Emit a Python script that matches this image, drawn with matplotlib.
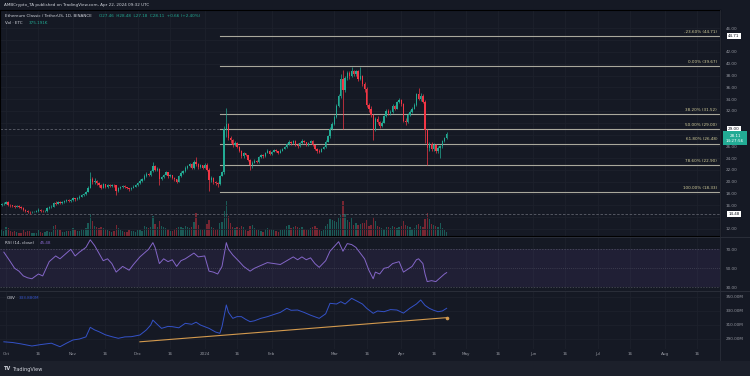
import pandas as pd
import matplotlib
matplotlib.use("Agg")
import matplotlib.pyplot as plt
import matplotlib.dates as mdates
from matplotlib.transforms import blended_transform_factory

W, H = 750, 376

# daily ETC/USDT candles from 2023-09-29 to 2024-04-22, open = previous close
first_date = "2023-09-29"
first_open = 16.0
closes = [
    16.2, 16.3,
    16.6, 16.1, 16.0, 15.9, 15.8, 15.9, 15.8, 15.6, 15.2, 15.1,
    14.9, 14.8, 14.9, 14.9, 15.0, 15.3, 15.1, 15.0, 15.0, 15.5,
    15.7, 15.8, 16.4, 16.3, 16.6, 16.4, 16.5, 16.7, 16.9, 16.8, 16.9,
    17.2, 17.0, 17.2, 17.5, 17.8, 17.9, 18.3, 19.0, 20.4, 20.0,
    20.2, 19.8, 19.5, 19.0, 19.6, 19.2, 19.4, 19.3, 19.5, 19.4,
    18.4, 18.9, 19.1, 19.3, 19.1, 18.9, 18.7, 19.0, 19.2, 19.4,
    19.8, 20.2, 20.4, 21.0, 21.3, 21.1, 21.8, 22.6, 22.0, 22.2,
    20.5, 20.8, 21.2, 21.6, 20.9, 21.1, 20.6, 20.4, 20.0, 20.9,
    21.5, 21.8, 22.4, 22.6, 23.0, 22.3, 23.4, 23.0, 22.5, 22.8, 22.4,
    22.9, 22.0, 20.3, 20.6, 20.0, 19.8, 19.6, 21.0, 21.6, 28.9,
    29.8, 27.4, 27.0, 26.2, 26.6, 25.9, 25.2, 24.3, 24.8, 24.5,
    23.7, 22.8, 23.2, 23.6, 23.3, 24.2, 24.5, 24.3, 24.9, 25.3, 24.7,
    25.1, 25.4, 25.2, 24.9, 25.3, 25.6, 25.9, 26.4, 26.8, 26.5,
    26.9, 26.3, 26.0, 26.6, 26.9, 26.7, 26.2, 26.6, 26.9, 26.2,
    25.6, 25.3, 25.1, 25.6, 25.9, 26.8, 27.7, 29.0, 29.8,
    31.0, 32.8, 34.5, 37.5, 35.5, 37.6, 38.4, 38.0, 38.8, 38.3,
    38.7, 37.5, 37.9, 36.5, 35.8, 33.0, 32.4, 31.3, 28.8, 30.7,
    30.1, 29.5, 30.0, 31.2, 32.0, 31.6, 31.9, 32.8, 32.4, 33.5, 33.9,
    33.2, 30.3, 30.1, 31.4, 31.9, 32.4, 33.0, 34.8, 34.0, 34.6,
    33.6, 28.7, 25.8, 26.4, 25.5, 26.2, 25.2, 25.7, 26.0, 26.9, 27.45, 28.11,
]
highs = [
    16.4, 16.5,
    16.8, 16.7, 16.3, 16.1, 16.0, 16.1, 16.0, 15.9, 15.7, 15.4,
    15.2, 15.0, 15.1, 15.1, 15.2, 15.6, 15.4, 15.2, 15.2, 15.7,
    15.9, 16.0, 16.6, 16.8, 16.8, 16.7, 16.7, 16.9, 17.1, 17.0, 17.1,
    17.4, 17.3, 17.4, 17.7, 18.0, 18.1, 18.5, 19.3, 21.7, 20.8,
    20.6, 20.3, 19.9, 19.6, 19.8, 19.7, 19.6, 19.6, 19.7, 19.7,
    19.5, 19.1, 19.3, 19.5, 19.4, 19.2, 19.0, 19.2, 19.4, 19.6,
    20.0, 20.4, 20.6, 21.3, 21.6, 21.5, 22.0, 23.4, 22.8, 22.5,
    22.3, 21.0, 21.4, 21.9, 21.7, 21.3, 21.2, 20.8, 20.5, 21.1,
    21.8, 22.0, 22.7, 22.9, 23.2, 23.1, 23.7, 24.2, 23.1, 23.0, 22.9,
    23.1, 23.2, 22.3, 20.9, 20.8, 20.2, 20.0, 21.2, 21.9, 29.5,
    32.5, 29.9, 27.8, 27.2, 26.9, 26.8, 26.1, 25.4, 25.0, 24.9,
    24.6, 23.8, 23.5, 23.8, 23.7, 24.4, 24.7, 24.7, 25.1, 25.5, 25.4,
    25.3, 25.6, 25.5, 25.3, 25.5, 25.8, 26.1, 26.6, 27.1, 26.9,
    27.1, 27.0, 26.5, 26.8, 27.2, 27.1, 26.8, 26.8, 27.1, 27.0,
    26.3, 25.8, 25.5, 25.8, 26.1, 27.0, 27.9, 29.3, 30.2,
    31.3, 33.1, 34.9, 38.2, 39.0, 37.9, 38.8, 38.7, 39.5, 39.0,
    39.0, 38.9, 39.4, 38.1, 36.9, 36.0, 33.4, 32.8, 31.5, 31.0,
    31.2, 30.3, 30.3, 31.4, 32.3, 32.3, 32.2, 33.1, 33.0, 33.7, 34.2,
    34.0, 33.3, 30.8, 31.7, 32.2, 32.6, 33.3, 35.1, 35.9, 35.0,
    34.8, 33.8, 28.9, 26.8, 26.7, 26.5, 26.4, 26.1, 26.3, 27.1, 27.6, 28.48,
]
lows = [
    15.9, 16.1,
    16.2, 15.9, 15.8, 15.7, 15.6, 15.7, 15.6, 15.4, 15.1, 14.9,
    14.7, 14.6, 14.7, 14.8, 14.8, 14.9, 14.9, 14.8, 14.8, 14.9,
    15.4, 15.6, 15.7, 16.0, 16.2, 16.2, 16.3, 16.4, 16.6, 16.6, 16.6,
    16.7, 16.8, 16.9, 17.1, 17.4, 17.6, 17.8, 18.2, 18.9, 19.6,
    19.7, 19.5, 19.2, 18.7, 18.9, 19.0, 19.0, 19.1, 19.1, 19.2,
    17.8, 18.3, 18.8, 19.0, 18.9, 18.7, 18.5, 18.6, 18.9, 19.1,
    19.3, 19.7, 20.0, 20.3, 20.8, 20.9, 21.0, 21.7, 21.8, 21.8,
    19.5, 20.3, 20.6, 21.1, 20.7, 20.8, 20.4, 20.2, 19.8, 19.9,
    20.8, 21.3, 21.7, 22.2, 22.5, 22.1, 22.2, 22.7, 22.2, 22.4, 22.2,
    22.3, 21.8, 18.4, 20.0, 19.7, 19.5, 19.2, 19.5, 20.9, 21.3,
    27.6, 27.0, 26.6, 25.9, 26.0, 25.7, 25.0, 24.1, 24.0, 24.3,
    23.5, 22.0, 22.3, 23.1, 23.1, 23.2, 24.1, 24.1, 24.2, 24.8, 24.5,
    24.6, 25.0, 25.0, 24.7, 24.8, 25.2, 25.5, 25.8, 26.3, 26.3,
    26.4, 26.1, 25.7, 25.9, 26.4, 26.5, 26.0, 26.1, 26.5, 26.0,
    25.4, 24.8, 24.9, 25.0, 25.5, 25.8, 26.7, 27.5, 28.8,
    29.6, 30.8, 32.6, 34.2, 29.0, 35.3, 37.2, 37.4, 37.8, 37.9,
    37.9, 37.1, 37.3, 36.2, 35.3, 32.6, 31.8, 30.9, 27.1, 28.6,
    29.8, 29.2, 29.3, 29.9, 31.0, 31.4, 31.4, 31.7, 32.2, 32.3, 33.3,
    32.8, 30.1, 29.6, 29.9, 31.2, 31.7, 32.3, 32.8, 33.8, 33.7,
    33.4, 26.5, 22.9, 25.3, 25.2, 25.3, 24.9, 24.8, 24.0, 25.8, 26.8, 27.18,
]
volumes = [  # thousand ETC
    700, 500,
    900, 800, 500, 450, 500, 400, 300, 350, 600, 450,
    550, 500, 350, 300, 300, 600, 400, 350, 450, 550,
    450, 400, 1000, 1100, 700, 600, 450, 400, 500, 550, 500,
    800, 600, 500, 550, 700, 650, 800, 1300, 2200, 1500,
    1000, 900, 800, 900, 800, 700, 600, 500, 450, 550,
    1100, 800, 600, 500, 400, 450, 600, 550, 500, 450,
    600, 650, 550, 1000, 900, 800, 900, 2000, 1200, 900,
    1500, 1000, 900, 800, 700, 500, 550, 700, 800, 900,
    900, 800, 1000, 900, 800, 900, 1400, 2300, 1100, 700, 600,
    700, 1200, 1600, 900, 800, 600, 700, 1300, 1400, 2500,
    3500, 2000, 1300, 900, 800, 900, 800, 1000, 900, 600,
    500, 1000, 1100, 800, 600, 600, 500, 400, 700, 800, 750,
    700, 600, 500, 450, 600, 650, 700, 1000, 1100, 800,
    900, 1000, 900, 800, 900, 700, 600, 650, 800, 900,
    1000, 800, 600, 500, 600, 1000, 1200, 1700, 1600,
    1500, 1400, 1800, 2100, 3500, 2200, 1600, 1400, 1800, 1100,
    1300, 1100, 1200, 1300, 1300, 1600, 1000, 1100, 1900, 1500,
    1000, 900, 800, 700, 900, 900, 800, 1000, 900, 800, 900,
    1000, 1500, 1100, 1000, 900, 700, 800, 1100, 1200, 1000,
    900, 1700, 2300, 1700, 1200, 1100, 1000, 900, 1300, 800, 600, 375,
]

fib_start = "2024-01-08"
fib_names = ["-23.60%", "0.00%", "38.20%", "50.00%", "61.80%", "78.60%", "100.00%"]
fib_prices = [44.71, 39.67, 31.52, 29.00, 26.48, 22.90, 18.33]
dashed_prices = [29.00, 14.48]
marked_prices = [44.71, 29.00, 14.48]

rsi_dates = [
    "2023-09-30", "2023-10-03", "2023-10-05", "2023-10-07", "2023-10-09", "2023-10-11",
    "2023-10-13", "2023-10-16", "2023-10-18", "2023-10-21", "2023-10-24", "2023-10-26",
    "2023-10-29", "2023-10-31", "2023-11-02", "2023-11-04", "2023-11-07", "2023-11-09",
    "2023-11-11", "2023-11-13", "2023-11-15", "2023-11-17", "2023-11-19", "2023-11-21",
    "2023-11-24", "2023-11-27", "2023-11-29", "2023-12-02", "2023-12-04", "2023-12-06",
    "2023-12-08", "2023-12-09", "2023-12-11", "2023-12-13", "2023-12-15", "2023-12-17",
    "2023-12-19", "2023-12-21", "2023-12-23", "2023-12-25", "2023-12-27", "2023-12-29",
    "2024-01-01", "2024-01-03", "2024-01-05", "2024-01-07", "2024-01-09", "2024-01-11",
    "2024-01-12", "2024-01-14", "2024-01-17", "2024-01-19", "2024-01-22", "2024-01-24",
    "2024-01-27", "2024-01-30", "2024-02-02", "2024-02-05", "2024-02-08", "2024-02-11",
    "2024-02-13", "2024-02-15", "2024-02-17", "2024-02-19", "2024-02-21", "2024-02-23",
    "2024-02-26", "2024-02-28", "2024-03-01", "2024-03-03", "2024-03-05", "2024-03-07",
    "2024-03-09", "2024-03-11", "2024-03-13", "2024-03-15", "2024-03-17", "2024-03-19",
    "2024-03-20", "2024-03-22", "2024-03-24", "2024-03-26", "2024-03-28", "2024-03-31",
    "2024-04-02", "2024-04-04", "2024-04-06", "2024-04-08", "2024-04-09", "2024-04-11",
    "2024-04-12", "2024-04-13", "2024-04-15", "2024-04-17", "2024-04-19", "2024-04-21",
    "2024-04-22",
]
rsi_values = [
    67, 57, 50, 47, 42, 40,
    39, 44, 42, 57, 63, 60,
    66, 70, 63, 67, 72, 80,
    74, 66, 58, 60, 55, 46,
    52, 48, 54, 62, 66, 70,
    77, 72, 55, 60, 57, 59,
    52, 58, 60, 63, 66, 62,
    63, 47, 46, 44, 52, 77,
    70, 64, 57, 52, 47, 50,
    53, 56, 55, 54, 58, 62,
    59, 62, 59, 61, 55, 51,
    58, 68, 73, 78, 68, 76,
    75, 72, 66, 60, 48, 39,
    46, 44, 50, 51, 55, 57,
    46, 49, 52, 59, 60, 55,
    44, 36, 37, 36, 40, 44,
    45.48,
]

obv_dates = [
    "2023-09-30", "2023-10-04", "2023-10-08", "2023-10-13", "2023-10-17", "2023-10-22",
    "2023-10-26", "2023-10-29", "2023-11-01", "2023-11-04", "2023-11-07", "2023-11-09",
    "2023-11-11", "2023-11-13", "2023-11-16", "2023-11-19", "2023-11-22", "2023-11-25",
    "2023-11-28", "2023-12-02", "2023-12-05", "2023-12-07", "2023-12-08", "2023-12-10",
    "2023-12-12", "2023-12-15", "2023-12-17", "2023-12-20", "2023-12-23", "2023-12-26",
    "2023-12-28", "2023-12-30", "2024-01-03", "2024-01-06", "2024-01-08", "2024-01-09",
    "2024-01-11", "2024-01-12", "2024-01-14", "2024-01-16", "2024-01-18", "2024-01-20",
    "2024-01-22", "2024-01-24", "2024-01-27", "2024-01-30", "2024-02-02", "2024-02-05",
    "2024-02-08", "2024-02-10", "2024-02-13", "2024-02-16", "2024-02-19", "2024-02-23",
    "2024-02-26", "2024-02-28", "2024-03-02", "2024-03-04", "2024-03-06", "2024-03-09",
    "2024-03-12", "2024-03-14", "2024-03-16", "2024-03-19", "2024-03-21", "2024-03-24",
    "2024-03-27", "2024-03-30", "2024-04-02", "2024-04-05", "2024-04-08", "2024-04-10",
    "2024-04-12", "2024-04-14", "2024-04-16", "2024-04-18", "2024-04-20", "2024-04-22",
]
obv_values = [  # million
    286, 285, 283, 280, 282, 284,
    279, 284, 288.6, 290, 293, 306.7,
    303, 300.5, 296, 293.3, 291, 293,
    293.3, 295.7, 303, 310, 317, 311,
    305.2, 308, 307.6, 306, 312.4, 311,
    314, 310, 305.2, 300, 298.1, 307.6,
    338.6, 328, 319.5, 322, 321.9, 318,
    314.8, 316, 319.5, 321.9, 325, 328,
    333.8, 331, 331.4, 328, 324, 319.5,
    326, 341, 340, 343.3, 340, 348.1,
    343.3, 340, 333.8, 326.7, 330, 329,
    332, 331.4, 327, 334, 340, 345.7,
    338, 333.8, 331, 329, 330, 333.88,
]
obv_trend_dates = ["2023-12-02", "2024-04-22"]
obv_trend_values = [286.0, 320.5]

x_tick_dates = [
    "2023-10-01", "2023-10-16", "2023-11-01", "2023-11-16", "2023-12-01", "2023-12-16",
    "2024-01-01", "2024-01-16", "2024-02-01", "2024-03-01", "2024-03-16", "2024-04-01",
    "2024-04-16", "2024-05-01", "2024-05-16", "2024-06-01", "2024-06-16", "2024-07-01",
    "2024-07-16", "2024-08-01", "2024-08-16",
]
x_tick_labels = [
    "Oct", "16", "Nov", "16", "Dec", "16", "2024", "16", "Feb", "Mar", "16", "Apr",
    "16", "May", "16", "Jun", "16", "Jul", "16", "Aug", "16",
]
price_ticks = [12, 14, 16, 18, 20, 22, 24, 26, 28, 30, 32, 34, 36, 38, 40, 42, 44, 46]
rsi_ticks = [70, 50, 30]
obv_ticks = [350, 330, 310, 290]

BG = "#151924"
GRID = "#1d212c"
TXT = "#9598a1"
UP = "#22ab94"
DN = "#f23645"
FS = 3.0

dates = pd.date_range(first_date, periods=len(closes), freq="D")
xd = mdates.date2num(dates)
opens = [first_open] + closes[:-1]
colors = [UP if c >= o else DN for o, c in zip(opens, closes)]


def box(x0, y0, x1, y1):
    return [x0 / W, 1 - y1 / H, (x1 - x0) / W, (y1 - y0) / H]


def px_y(y):
    return 1 - y / H


fig = plt.figure(figsize=(W / 100, H / 100), dpi=100, facecolor=BG)

axv = fig.add_axes(box(0, 10, 720, 236))
ax = fig.add_axes(box(0, 10, 720, 236), sharex=axv)
ax_rsi = fig.add_axes(box(0, 237, 720, 290), sharex=axv)
ax_obv = fig.add_axes(box(0, 291, 720, 349), sharex=axv)
axv.set_zorder(0)
ax.set_zorder(1)
ax.patch.set_visible(False)

oct1 = mdates.date2num(pd.Timestamp("2023-10-01"))
px_per_day = 2.16
axv.set_xlim(oct1 - 6 / px_per_day, oct1 + 714 / px_per_day)

tick_x = mdates.date2num(pd.to_datetime(x_tick_dates))
for a in (axv, ax_rsi, ax_obv):
    a.set_facecolor(BG)
    for s in a.spines.values():
        s.set_visible(False)
    for t in tick_x:
        a.axvline(t, color=GRID, lw=0.6, zorder=0)

# volume overlay
axv.bar(xd, volumes, width=0.6, color=colors, alpha=0.45, linewidth=0)
axv.set_ylim(0, max(volumes) * 226 / 35)
axv.set_yticks([])
axv.tick_params(labelbottom=False, length=0)

# price panel
ax.set_ylim(44.71 - 200 / 5.9, 44.71 + 26 / 5.9)
for p in price_ticks:
    ax.axhline(p, color=GRID, lw=0.6, zorder=0)
ax.vlines(xd, lows, highs, colors=colors, lw=0.5, zorder=3)
bodies = [max(abs(c - o), 0.06) for o, c in zip(opens, closes)]
ax.bar(xd, bodies, bottom=[min(o, c) for o, c in zip(opens, closes)], width=0.62,
       color=colors, linewidth=0, zorder=4)

ax.yaxis.tick_right()
hidden = {14, 28, 30, 44}
ax.set_yticks(price_ticks)
ax.set_yticklabels(["" if p in hidden else f"{p:.2f}" for p in price_ticks])
ax.tick_params(axis="y", length=0, pad=4, labelsize=FS, labelcolor=TXT)
ax.tick_params(axis="x", labelbottom=False, length=0)

x_fib = mdates.date2num(pd.Timestamp(fib_start))
x_end = axv.get_xlim()[1]
for name, p in zip(fib_names, fib_prices):
    ax.plot([x_fib, x_end], [p, p], color="#a9a89c", lw=0.8, zorder=2)
    ax.text(x_end - 1.3, p + 0.35, f"{name} ({p:.2f})", color="#d4cf9c", fontsize=FS,
            ha="right", va="bottom", zorder=5)
for p in dashed_prices:
    ax.axhline(p, color="#5d606b", lw=0.6, ls=(0, (3, 2)), zorder=1)

tr = blended_transform_factory(fig.transFigure, ax.transData)
for p in marked_prices:
    ax.text(734 / W, p, f"{p:.2f}", transform=tr, fontsize=FS, color="#131722",
            ha="center", va="center", zorder=10, clip_on=False,
            bbox=dict(boxstyle="square,pad=0.25", fc="#ffffff", ec="none"))
ax.text(735 / W, closes[-1], f"{closes[-1]:.2f}\n14:27:56", transform=tr, fontsize=FS,
        color="white", ha="center", va="top", zorder=10, clip_on=False, linespacing=1.3,
        bbox=dict(boxstyle="square,pad=0.6", fc=UP, ec="none"))

# RSI panel
ax_rsi.set_ylim(70 - (290 - 249.3) / 0.95, 70 + (249.3 - 237) / 0.95)
ax_rsi.axhspan(30, 70, color="#7e57c2", alpha=0.11, lw=0)
for lvl, st in ((70, (0, (2, 2))), (50, (0, (1, 2))), (30, (0, (2, 2)))):
    ax_rsi.axhline(lvl, color="#787b86", lw=0.5, ls=st, alpha=0.6)
ax_rsi.plot(mdates.date2num(pd.to_datetime(rsi_dates)), rsi_values, color="#8466c8", lw=0.7)
ax_rsi.yaxis.tick_right()
ax_rsi.set_yticks(rsi_ticks)
ax_rsi.set_yticklabels([f"{v:.2f}" for v in rsi_ticks])
ax_rsi.tick_params(axis="y", length=0, pad=4, labelsize=FS, labelcolor=TXT)
ax_rsi.tick_params(axis="x", labelbottom=False, length=0)

# OBV panel
ax_obv.set_ylim(350 - (349 - 297) * 20 / 14, 350 + (297 - 291) * 20 / 14)
for v in obv_ticks:
    ax_obv.axhline(v, color=GRID, lw=0.6, zorder=0)
ax_obv.plot(mdates.date2num(pd.to_datetime(obv_dates)), obv_values, color="#3452c8", lw=0.7)
ax_obv.plot(mdates.date2num(pd.to_datetime(obv_trend_dates)), obv_trend_values,
            color="#d39a4e", lw=0.8)
ax_obv.plot(mdates.date2num(pd.Timestamp(obv_trend_dates[-1])), obv_trend_values[-1], "o",
            color="#d39a4e", ms=1.6)
ax_obv.yaxis.tick_right()
ax_obv.set_yticks(obv_ticks)
ax_obv.set_yticklabels([f"{v}.00M" for v in obv_ticks])
ax_obv.tick_params(axis="y", length=0, pad=4, labelsize=FS, labelcolor=TXT)
ax_obv.set_xticks(tick_x)
ax_obv.set_xticklabels(x_tick_labels)
ax_obv.tick_params(axis="x", length=0, pad=2.2, labelsize=FS, labelcolor=TXT)

# separators and footer
for yy in (236.5, 290.5):
    fig.add_artist(plt.Line2D([0, 1], [px_y(yy)] * 2, color="#2a2e39", lw=0.7))
fig.add_artist(plt.Line2D([720 / W] * 2, [px_y(10), px_y(360)], color="#2a2e39", lw=0.6))
fig.add_artist(plt.Rectangle((0, 0), 1, 1 - 361 / H, color="#1c202b", lw=0))

# header and legends
fig.text(4 / W, px_y(5), "AMBCrypto_TA published on TradingView.com, Apr 22, 2024 09:32 UTC",
         fontsize=FS, color="#d1d4dc", va="center")
fig.text(5 / W, px_y(16), "Ethereum Classic / TetherUS, 1D, BINANCE", fontsize=FS,
         color="#d1d4dc", va="center")
fig.text(99 / W, px_y(16), "O27.46  H28.48  L27.18  C28.11  +0.66 (+2.40%)", fontsize=FS,
         color=UP, va="center")
fig.text(5 / W, px_y(23), "Vol · ETC", fontsize=FS, color="#d1d4dc", va="center")
fig.text(29 / W, px_y(23), "375.191K", fontsize=FS, color=UP, va="center")
fig.text(5 / W, px_y(243), "RSI (14, close)", fontsize=FS, color="#d1d4dc", va="center")
fig.text(40 / W, px_y(243), "45.48", fontsize=FS, color="#8466c8", va="center")
fig.text(7 / W, px_y(298), "OBV", fontsize=FS, color="#d1d4dc", va="center")
fig.text(19 / W, px_y(298), "333.880M", fontsize=FS, color="#3452c8", va="center")
fig.text(4 / W, px_y(369), "TV", fontsize=3.6, color="#d1d4dc", va="center", weight="bold")
fig.text(12 / W, px_y(369), "TradingView", fontsize=3.6, color="#d1d4dc", va="center")

fig.savefig("out.png", dpi=100, facecolor=BG)
